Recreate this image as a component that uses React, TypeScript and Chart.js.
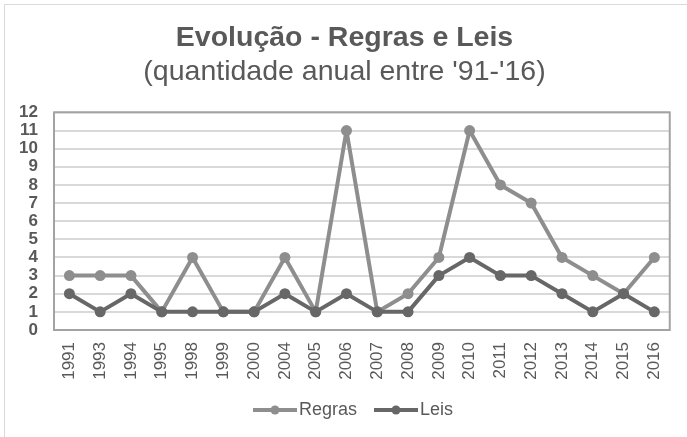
import React, { useEffect, useRef } from "react";
import { Chart, registerables } from "chart.js";

Chart.register(...registerables);

const years = ["1991","1993","1994","1995","1998","1999","2000","2004","2005","2006","2007","2008","2009","2010","2011","2012","2013","2014","2015","2016"];
const regras = [3,3,3,1,4,1,1,4,1,11,1,2,4,11,8,7,4,3,2,4];
const leis = [2,1,2,1,1,1,1,2,1,2,1,1,3,4,3,3,2,1,2,1];
const yTicks = [0,1,2,3,4,5,6,7,8,9,10,11,12];

const titleText = "Evolução - Regras e Leis";
const subtitleText = "(quantidade anual entre '91-'16)";

const REGRAS_COLOR = "#8e8e8e";
const LEIS_COLOR = "#676767";
const TEXT_COLOR = "#595959";
const FONT = "'Liberation Sans', Arial, sans-serif";

function legendImage(color: string): HTMLCanvasElement {
  const c = document.createElement("canvas");
  c.width = 68;
  c.height = 12;
  const ctx = c.getContext("2d")!;
  ctx.strokeStyle = color;
  ctx.lineWidth = 4;
  ctx.beginPath();
  ctx.moveTo(24, 6);
  ctx.lineTo(68, 6);
  ctx.stroke();
  ctx.fillStyle = color;
  ctx.beginPath();
  ctx.arc(46, 6, 4.5, 0, Math.PI * 2);
  ctx.fill();
  return c;
}

const framePlugin = {
  id: "frame",
  beforeDatasetsDraw(chart: any) {
    const { ctx, chartArea } = chart;
    ctx.save();
    ctx.strokeStyle = "#a3a3a3";
    ctx.lineWidth = 2;
    ctx.strokeRect(chartArea.left, chartArea.top, chartArea.right - chartArea.left, chartArea.bottom - chartArea.top);
    ctx.restore();
  },
};

export default function App() {
  const ref = useRef<HTMLCanvasElement>(null);

  useEffect(() => {
    document.body.style.margin = "0";
    document.body.style.overflow = "hidden";
    const imgs = [legendImage(REGRAS_COLOR), legendImage(LEIS_COLOR)];
    const chart = new Chart(ref.current!, {
      type: "line",
      data: {
        labels: years,
        datasets: [
          {
            label: "Regras",
            data: regras,
            borderColor: REGRAS_COLOR,
            backgroundColor: REGRAS_COLOR,
            borderWidth: 4,
            borderJoinStyle: "round",
            pointRadius: 5.5,
            pointBorderWidth: 0,
            pointBackgroundColor: REGRAS_COLOR,
            tension: 0,
            order: 1,
          },
          {
            label: "Leis",
            data: leis,
            borderColor: LEIS_COLOR,
            backgroundColor: LEIS_COLOR,
            borderWidth: 4,
            borderJoinStyle: "round",
            pointRadius: 5.5,
            pointBorderWidth: 0,
            pointBackgroundColor: LEIS_COLOR,
            tension: 0,
            order: 0,
          },
        ],
      },
      options: {
        animation: false,
        responsive: true,
        maintainAspectRatio: false,
        layout: { padding: { top: 21, left: 12, right: 10, bottom: 8 } },
        plugins: {
          tooltip: { enabled: false },
          title: {
            display: true,
            text: titleText,
            color: TEXT_COLOR,
            font: { family: FONT, size: 28.5, weight: "bold" },
            padding: { top: 0, bottom: 0 },
          },
          subtitle: {
            display: true,
            text: subtitleText,
            color: TEXT_COLOR,
            font: { family: FONT, size: 28.5, weight: "normal" },
            padding: { top: 0, bottom: 23 },
          },
          legend: {
            display: true,
            position: "bottom",
            labels: {
              usePointStyle: true,
              pointStyleWidth: 54,
              padding: 0,
              color: TEXT_COLOR,
              font: { family: FONT, size: 18 },
              generateLabels: (ch: any) =>
                ch.data.datasets.map((ds: any, i: number) => ({
                  text: ds.label,
                  fillStyle: ds.borderColor,
                  strokeStyle: ds.borderColor,
                  fontColor: TEXT_COLOR,
                  lineWidth: 0,
                  pointStyle: imgs[i],
                  hidden: false,
                  datasetIndex: i,
                })),
            },
          },
        },
        scales: {
          x: {
            offset: true,
            grid: { display: false, drawTicks: false },
            border: { display: false },
            ticks: {
              autoSkip: false,
              minRotation: 90,
              maxRotation: 90,
              padding: 12,
              color: TEXT_COLOR,
              font: { family: FONT, size: 17 },
            },
            afterFit: (s: any) => {
              s.height = 71;
            },
          },
          y: {
            min: 0,
            max: 12,
            afterBuildTicks: (s: any) => {
              s.ticks = yTicks.map((v) => ({ value: v }));
            },
            grid: { color: "#d9d9d9", lineWidth: 2, drawTicks: false },
            border: { display: false },
            ticks: {
              autoSkip: false,
              stepSize: 1,
              padding: 16,
              color: TEXT_COLOR,
              font: { family: FONT, size: 17, weight: "bold" },
            },
            afterFit: (s: any) => {
              s.width = 42;
            },
          },
        },
      },
      plugins: [framePlugin],
    });
    return () => chart.destroy();
  }, []);

  return (
    <div style={{ position: "relative", width: 687, height: 437, overflow: "hidden", background: "#fff" }}>
      <div
        style={{
          position: "absolute",
          left: 4,
          top: 4,
          width: 720,
          height: 470,
          border: "1px solid #d9d9d9",
          boxSizing: "border-box",
        }}
      />
      <canvas ref={ref} style={{ position: "absolute", left: 0, top: 0 }} />
    </div>
  );
}
